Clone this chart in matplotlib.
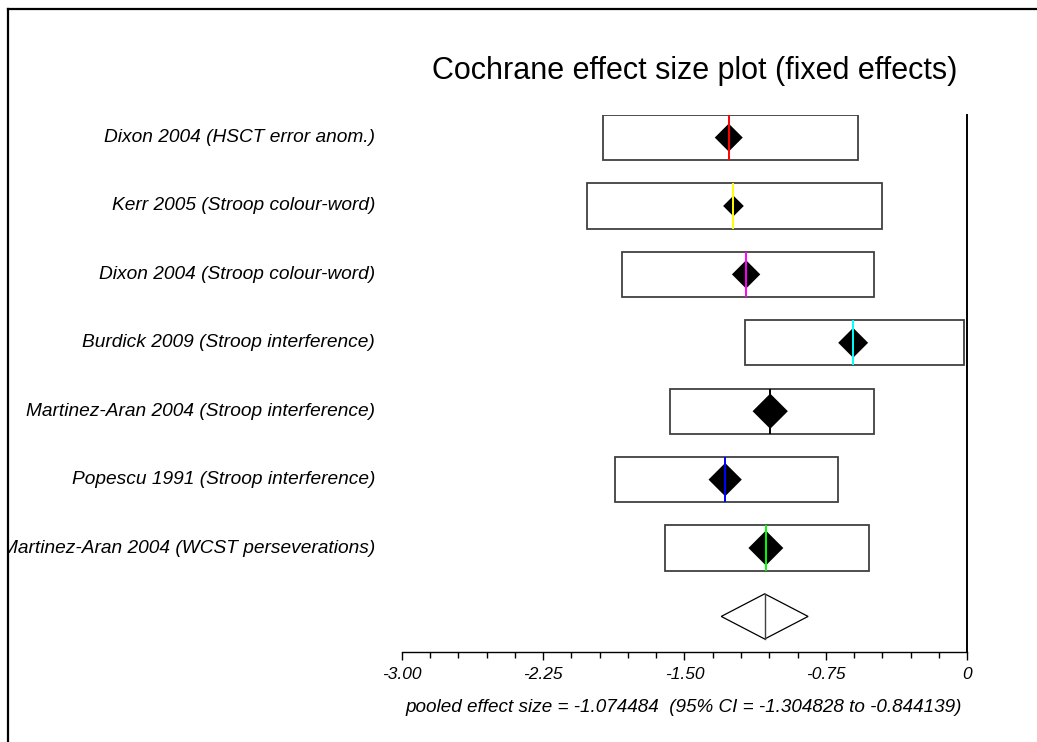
import numpy as np
import matplotlib
matplotlib.use("Agg")
import matplotlib.pyplot as plt
from matplotlib.patches import Rectangle, Polygon
from matplotlib.lines import Line2D
from matplotlib.transforms import blended_transform_factory

plt.rcParams['font.family'] = ['Liberation Sans', 'DejaVu Sans']

# --- study data ---
studies = [
    "Dixon 2004 (HSCT error anom.)",
    "Kerr 2005 (Stroop colour-word)",
    "Dixon 2004 (Stroop colour-word)",
    "Burdick 2009 (Stroop interference)",
    "Martinez-Aran 2004 (Stroop interference)",
    "Popescu 1991 (Stroop interference)",
    "Martinez-Aran 2004 (WCST perseverations)",
]
effect = [-1.265, -1.240, -1.173, -0.605, -1.045, -1.284, -1.068]
ci_low = [-1.930, -2.015, -1.832, -1.180, -1.576, -1.868, -1.604]
ci_high = [-0.577, -0.451, -0.497, -0.016, -0.497, -0.685, -0.520]
weights = [12.1, 6.6, 12.4, 13.8, 19.2, 17.1, 18.8]   # percent
line_colors = ['#ff0000', '#ffff00', '#ff00ff', '#00ffff', '#000000', '#0000ff', '#00ff00']

pooled = -1.074484
pooled_low = -1.304828
pooled_high = -0.844139

major_ticks = [-3.0, -2.25, -1.5, -0.75, 0.0]
tick_labels = ['-3.00', '-2.25', '-1.50', '-0.75', '0']

# --- layout ---
W, H = 1037, 742
fig = plt.figure(figsize=(W / 100, H / 100), dpi=100)
ax = fig.add_axes([401.7 / W, 1 - 652 / H, 565.5 / W, 537 / H])

half_h = 0.33
for i in range(len(studies)):
    ax.add_patch(Rectangle((ci_low[i], i - half_h), ci_high[i] - ci_low[i], 2 * half_h,
                           facecolor='white', edgecolor='#404040', lw=1.3, zorder=2))
ax.scatter(effect, range(len(studies)), s=np.array(weights) * 16.8, marker='D',
           color='black', linewidths=0, zorder=3)
for i in range(len(studies)):
    ax.plot([effect[i], effect[i]], [i - half_h, i + half_h], color=line_colors[i],
            lw=1.4, zorder=4, solid_capstyle='butt')

# pooled estimate
yp = len(studies)
ax.add_patch(Polygon([(pooled_low, yp), (pooled, yp - half_h), (pooled_high, yp), (pooled, yp + half_h)],
                     closed=True, facecolor='white', edgecolor='black', lw=0.9, zorder=3))
ax.plot([pooled, pooled], [yp - half_h, yp + half_h], color='#404040', lw=1.0, zorder=4)

ax.set_xlim(-3.0, 0.0)
ax.set_ylim(7.52, -half_h)
for side in ['top', 'left']:
    ax.spines[side].set_visible(False)
ax.spines['right'].set_linewidth(1.4)
ax.spines['bottom'].set_linewidth(1.0)
ax.set_yticks([])
ax.set_xticks(major_ticks)
ax.set_xticklabels(tick_labels, fontsize=12.5, style='italic')
ax.set_xticks(np.arange(-3.0, 0.01, 0.15), minor=True)
ax.tick_params(axis='x', which='major', length=6, width=1.0, pad=5)
ax.tick_params(axis='x', which='minor', length=4, width=1.0)

# study labels
trans = blended_transform_factory(fig.transFigure, ax.transData)
for i, name in enumerate(studies):
    ax.text(375 / W, i, name, transform=trans, ha='right', va='center',
            fontsize=13.8, style='italic', clip_on=False)

fig.text(695 / W, 1 - 71 / H, "Cochrane effect size plot (fixed effects)",
         ha='center', va='center', fontsize=22)
fig.text(684 / W, 1 - 707 / H,
         "pooled effect size = %.6f  (95%% CI = %.6f to %.6f)" % (pooled, pooled_low, pooled_high),
         ha='center', va='center', fontsize=13.6, style='italic')

# frame lines
fig.patches.append(Rectangle((0, 0), 8 / W, 1, transform=fig.transFigure,
                             facecolor='white', edgecolor='none', zorder=10))
fig.lines.append(Line2D([8 / W, 8 / W], [0, 1 - 9 / H], transform=fig.transFigure,
                        color='black', lw=1.6, zorder=11))
fig.lines.append(Line2D([8 / W, 1], [1 - 9 / H, 1 - 9 / H], transform=fig.transFigure,
                        color='black', lw=1.6, zorder=11))

fig.savefig("out.png", dpi=100)
